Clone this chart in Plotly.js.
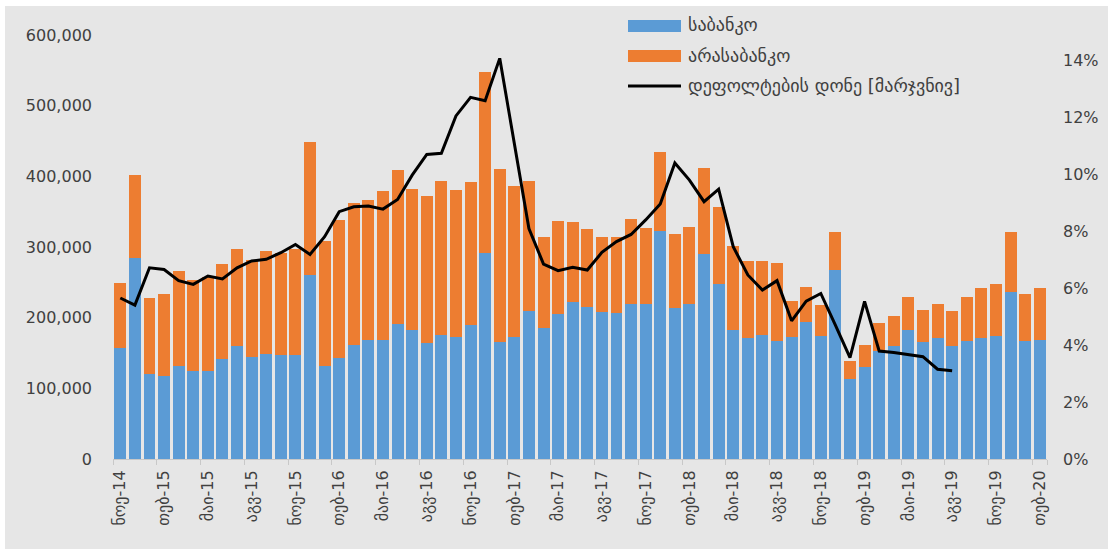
<!DOCTYPE html>
<html>
<head>
<meta charset="utf-8">
<script src="https://cdn.plot.ly/plotly-3.0.1.min.js"></script>
<style>
  html, body { margin: 0; padding: 0; background: #ffffff; }
  #chart { position: absolute; left: 5px; top: 6px; width: 1103px; height: 543px; }
</style>
</head>
<body>
<div id="chart"></div>
<script>
// Categories (months)
const months = [
  "ნოე-14","დეკ-14",
  "იან-15","თებ-15","მარ-15","აპრ-15","მაი-15","ივნ-15","ივლ-15","აგვ-15","სექ-15","ოქტ-15","ნოე-15","დეკ-15",
  "იან-16","თებ-16","მარ-16","აპრ-16","მაი-16","ივნ-16","ივლ-16","აგვ-16","სექ-16","ოქტ-16","ნოე-16","დეკ-16",
  "იან-17","თებ-17","მარ-17","აპრ-17","მაი-17","ივნ-17","ივლ-17","აგვ-17","სექ-17","ოქტ-17","ნოე-17","დეკ-17",
  "იან-18","თებ-18","მარ-18","აპრ-18","მაი-18","ივნ-18","ივლ-18","აგვ-18","სექ-18","ოქტ-18","ნოე-18","დეკ-18",
  "იან-19","თებ-19","მარ-19","აპრ-19","მაი-19","ივნ-19","ივლ-19","აგვ-19","სექ-19","ოქტ-19","ნოე-19","დეკ-19",
  "იან-20","თებ-20"
];

// Bank (blue) values
const bank = [
  157000, 284000,
  120000, 118000, 131000, 124000, 124500, 141000, 160000, 144000, 148500, 147000, 147000, 261000,
  131500, 142500, 162000, 169000, 168000, 191500, 182000, 163700, 175500, 172000, 189600, 291000,
  166000, 173000, 209000, 185000, 205000, 222600, 214600, 208500, 207000, 219000, 219300, 322000,
  214000, 219000, 290000, 247000, 183000, 171700, 175500, 166500, 173000, 194000, 174000, 268000,
  113600, 130600, 152800, 160000, 182000, 165000, 170700, 160000, 167000, 170700, 174500, 235900,
  167400, 168000
];

// Total (bank + non-bank) values read from bar tops
const total = [
  249500, 402000,
  228000, 233500, 266000, 253000, 257000, 275500, 296700, 281000, 294000, 291000, 296700, 449000,
  309000, 338000, 362700, 366000, 379700, 409000, 382000, 372000, 394000, 380600, 392000, 547600,
  411000, 386800, 393000, 314600, 337000, 336000, 325500, 313700, 314600, 339000, 326400, 434900,
  318000, 327800, 412000, 357000, 301000, 280600, 280000, 277000, 224000, 243800, 218000, 320800,
  138700, 162000, 193000, 202000, 229700, 210800, 220000, 209900, 229700, 241500, 247000, 321600,
  234000, 242400
];

// Non-bank (orange) values
const nonBank = total.map((t, i) => t - bank[i]);

// Default level (right axis), fraction
const defaultRate = [
  0.0565, 0.0540,
  0.0671, 0.0665, 0.0626, 0.0613, 0.0642, 0.0632, 0.0671, 0.0695, 0.0701, 0.0724, 0.0753, 0.0718,
  0.0780, 0.0868, 0.0885, 0.0888, 0.0877, 0.0911, 0.0996, 0.1069, 0.1073, 0.1204, 0.1269, 0.1257,
  0.1406, 0.1108, 0.0809, 0.0684, 0.0661, 0.0673, 0.0663, 0.0725, 0.0763, 0.0788, 0.0839, 0.0895,
  0.1039, 0.0979, 0.0903, 0.0947, 0.0745, 0.0646, 0.0593, 0.0626, 0.0485, 0.0554, 0.0581, 0.0470,
  0.0356, 0.0553, 0.0379, 0.0374, 0.0367, 0.0359, 0.0315, 0.0310, null, null, null, null,
  null, null
];

const seriesNames = ["საბანკო", "არასაბანკო", "დეფოლტების დონე [მარჯვნივ]"];
const colors = ["#5b9bd5", "#ed7d31", "#000000"];

const tickIdx = months.map((m, i) => i).filter(i => i % 3 === 0);
const tickVals = tickIdx.map(i => months[i]);

const FONT = "DejaVu Sans, Liberation Sans, sans-serif";
const TXT = "#404040";

const traces = [
  { type: "bar", name: seriesNames[0], x: months, y: bank, marker: { color: colors[0] }, hoverinfo: "y" },
  { type: "bar", name: seriesNames[1], x: months, y: nonBank, marker: { color: colors[1] }, hoverinfo: "y" },
  { type: "scatter", mode: "lines", name: seriesNames[2], x: months, y: defaultRate, yaxis: "y2",
    line: { color: colors[2], width: 3 }, connectgaps: false }
];

// manual legend (paper coords)
const px = v => (v - 113) / 934;
const py = v => (459 - v) / 424;
const shapes = [
  { type: "rect", xref: "paper", yref: "paper", x0: px(628), x1: px(681), y0: py(32), y1: py(20),
    fillcolor: colors[0], line: { width: 0 } },
  { type: "rect", xref: "paper", yref: "paper", x0: px(628), x1: px(681), y0: py(62), y1: py(50),
    fillcolor: colors[1], line: { width: 0 } },
  { type: "line", xref: "paper", yref: "paper", x0: px(628), x1: px(681), y0: py(86), y1: py(86),
    line: { color: colors[2], width: 3 } }
];
const annotations = [25, 55, 86].map((yy, i) => ({
  xref: "paper", yref: "paper", x: px(686), y: py(yy), xanchor: "left", yanchor: "middle",
  text: seriesNames[i], showarrow: false, font: { family: FONT, size: 18, color: TXT }
}));

const layout = {
  width: 1103, height: 543,
  margin: { l: 108, r: 61, t: 29, b: 90, pad: 0 },
  paper_bgcolor: "#e6e6e6",
  plot_bgcolor: "#e6e6e6",
  barmode: "stack",
  bargap: 0.18,
  showlegend: false,
  font: { family: FONT, size: 16, color: TXT },
  xaxis: {
    type: "category",
    tickmode: "array", tickvals: tickVals, ticktext: tickVals,
    tickangle: -90,
    tickfont: { family: FONT, size: 16, color: TXT },
    ticks: "outside", ticklen: 5, tickcolor: "#c8c8c8", tickson: "boundaries",
    showline: true, linecolor: "#c8c8c8", linewidth: 1,
    showgrid: false, zeroline: false,
    ticklabelstandoff: 4
  },
  yaxis: {
    range: [0, 600000], tickvals: [0, 100000, 200000, 300000, 400000, 500000, 600000],
    tickformat: ",", showgrid: false, zeroline: false, showline: false,
    tickfont: { family: FONT, size: 16, color: TXT },
    ticklabelstandoff: 20
  },
  yaxis2: {
    overlaying: "y", side: "right", range: [0, 0.1488],
    tickvals: [0, 0.02, 0.04, 0.06, 0.08, 0.10, 0.12, 0.14],
    tickformat: ".0%", showgrid: false, zeroline: false, showline: false,
    tickfont: { family: FONT, size: 16, color: TXT },
    ticklabelstandoff: 15
  },
  shapes: shapes,
  annotations: annotations
};

Plotly.newPlot("chart", traces, layout, { staticPlot: true, displayModeBar: false });
</script>
</body>
</html>
